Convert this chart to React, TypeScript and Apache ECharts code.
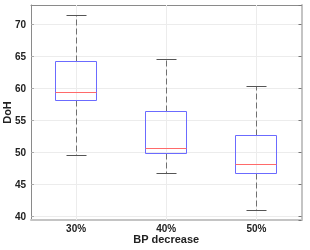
import React, { useEffect, useRef } from "react";
import * as echarts from "echarts";

const categories = ["30%", "40%", "50%"];
const lowerWhisker = [49.5, 46.7, 41.0];
const q1Values = [58.1, 49.9, 46.75];
const medians = [59.35, 50.6, 48.2];
const q3Values = [64.2, 56.5, 52.7];
const upperWhisker = [71.4, 64.5, 60.3];

const Y_MIN = 39.4;
const Y_MAX = 73.0;

export default function App() {
  const ref = useRef<HTMLDivElement>(null);
  useEffect(() => {
    if (!ref.current) return;
    const chart = echarts.init(ref.current, null, { renderer: "svg" });
    const data = categories.map((_, i) => [
      i,
      lowerWhisker[i],
      q1Values[i],
      medians[i],
      q3Values[i],
      upperWhisker[i],
    ]);
    const font = "'Liberation Sans', Arial, sans-serif";
    chart.setOption({
      animation: false,
      grid: {
        left: 31,
        right: 8.5,
        top: 5,
        bottom: 30,
        containLabel: false,
        outerBoundsMode: "none",
      },
      xAxis: [
        {
          type: "category",
          data: categories,
          position: "bottom",
          boundaryGap: true,
          axisLine: { lineStyle: { color: "#c4c4c4", width: 2 } },
          axisTick: { show: false },
          splitLine: { show: false },
          axisLabel: {
            margin: 3,
            fontFamily: font,
            fontSize: 10,
            fontWeight: "bold",
            color: "#222",
          },
          name: "BP decrease",
          nameLocation: "middle",
          nameGap: 13,
          nameMoveOverlap: false,
          nameTextStyle: {
            fontFamily: font,
            fontSize: 11,
            fontWeight: "bold",
            color: "#222",
          },
        },
        {
          type: "category",
          data: categories,
          position: "top",
          axisLine: { lineStyle: { color: "#8a8a8a", width: 1 } },
          axisTick: { show: false },
          axisLabel: { show: false },
          splitLine: { show: false },
        },
      ],
      yAxis: [
        {
          type: "value",
          min: Y_MIN,
          max: Y_MAX,
          splitNumber: 7,
          position: "left",
          axisLine: { show: true, lineStyle: { color: "#8a8a8a", width: 1 } },
          axisTick: {
            show: true,
            inside: true,
            length: 3,
            lineStyle: { color: "#aaa" },
          },
          axisLabel: {
            showMinLabel: false,
            showMaxLabel: false,
            margin: 5,
            fontFamily: font,
            fontSize: 10,
            fontWeight: "bold",
            color: "#222",
          },
          splitLine: { show: true, lineStyle: { color: "#ececec", width: 1 } },
          name: "DoH",
          nameLocation: "middle",
          nameGap: 19,
          nameMoveOverlap: false,
          nameTextStyle: {
            fontFamily: font,
            fontSize: 11,
            fontWeight: "bold",
            color: "#222",
          },
        },
        {
          type: "value",
          min: Y_MIN,
          max: Y_MAX,
          splitNumber: 7,
          position: "right",
          axisLine: { show: true, lineStyle: { color: "#c4c4c4", width: 2 } },
          axisTick: {
            show: true,
            inside: true,
            length: 3,
            lineStyle: { color: "#777" },
          },
          axisLabel: { show: false },
          splitLine: { show: false },
        },
      ],
      series: [
        {
          type: "custom",
          xAxisIndex: 0,
          yAxisIndex: 0,
          data,
          encode: { x: 0, y: [1, 2, 3, 4, 5] },
          renderItem: (params: any, api: any) => {
            const idx = api.value(0);
            const lo = api.value(1);
            const q1 = api.value(2);
            const med = api.value(3);
            const q3 = api.value(4);
            const hi = api.value(5);
            const band = api.size([1, 0])[0];
            const cx = Math.round(api.coord([idx, med])[0]) + 0.5;
            const yTop = api.coord([idx, Y_MAX])[1];
            const yBot = api.coord([idx, Y_MIN])[1];
            const yLo = Math.round(api.coord([idx, lo])[1]) + 0.5;
            const yQ1 = Math.round(api.coord([idx, q1])[1]) + 0.5;
            const yMed = Math.round(api.coord([idx, med])[1]) + 0.5;
            const yQ3 = Math.round(api.coord([idx, q3])[1]) + 0.5;
            const yHi = Math.round(api.coord([idx, hi])[1]) + 0.5;
            const bw = Math.round(band * 0.45);
            const cw = Math.round(band * 0.225);
            const x0 = cx - Math.round(bw / 2);
            const x1 = x0 + bw;
            const c0 = cx - Math.round(cw / 2);
            const c1 = c0 + cw;
            return {
              type: "group",
              children: [
                {
                  type: "line",
                  shape: { x1: cx, y1: yTop, x2: cx, y2: yBot },
                  style: { stroke: "#ececec", lineWidth: 1 },
                },
                {
                  type: "line",
                  shape: { x1: cx, y1: yQ3, x2: cx, y2: yHi },
                  style: { stroke: "#707070", lineWidth: 1, lineDash: [6, 3] },
                },
                {
                  type: "line",
                  shape: { x1: cx, y1: yQ1, x2: cx, y2: yLo },
                  style: { stroke: "#707070", lineWidth: 1, lineDash: [6, 3] },
                },
                {
                  type: "line",
                  shape: { x1: c0, y1: yHi, x2: c1, y2: yHi },
                  style: { stroke: "#555", lineWidth: 1 },
                },
                {
                  type: "line",
                  shape: { x1: c0, y1: yLo, x2: c1, y2: yLo },
                  style: { stroke: "#555", lineWidth: 1 },
                },
                {
                  type: "rect",
                  shape: { x: x0, y: yQ3, width: bw, height: yQ1 - yQ3 },
                  style: { fill: "none", stroke: "#6b6bff", lineWidth: 1 },
                },
                {
                  type: "line",
                  shape: { x1: x0, y1: yMed, x2: x1, y2: yMed },
                  style: { stroke: "#ff6a6a", lineWidth: 1 },
                },
              ],
            };
          },
        },
      ],
    });
    return () => chart.dispose();
  }, []);
  return (
    <div
      ref={ref}
      style={{ position: "fixed", left: 0, top: 0, width: 310, height: 250 }}
    />
  );
}
